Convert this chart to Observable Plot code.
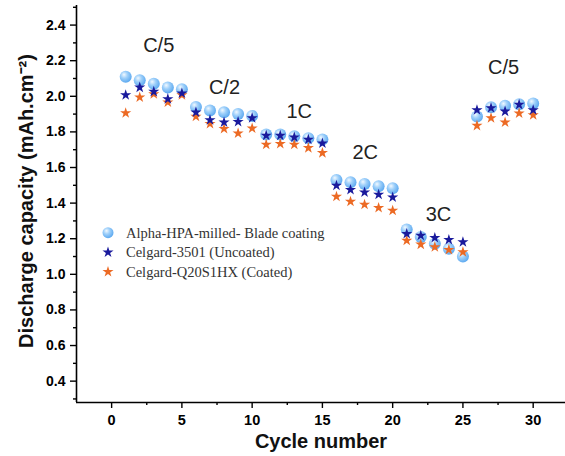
<!DOCTYPE html>
<html>
<head>
<meta charset="utf-8">
<script src="https://cdn.jsdelivr.net/npm/d3@7"></script>
<script src="https://cdn.jsdelivr.net/npm/@observablehq/plot@0.6"></script>
<style>
  html, body { margin: 0; padding: 0; background: #fff; }
  #chart { width: 565px; height: 456px; }
</style>
</head>
<body>
<div id="chart"></div>
<script>
// ---- data ----
const cycles = [1,2,3,4,5,6,7,8,9,10,11,12,13,14,15,16,17,18,19,20,21,22,23,24,25,26,27,28,29,30];
const alphaHPA = [2.11,2.09,2.07,2.05,2.04, 1.94,1.92,1.91,1.90,1.89, 1.785,1.785,1.775,1.765,1.757, 1.53,1.517,1.508,1.495,1.484, 1.252,1.209,1.172,1.144,1.10, 1.886,1.938,1.947,1.955,1.96];
const celgardUncoated = [2.007,2.05,2.026,1.985,2.017, 1.91,1.867,1.854,1.857,1.878, 1.779,1.779,1.77,1.757,1.736, 1.499,1.475,1.461,1.448,1.433, 1.228,1.218,1.205,1.194,1.181, 1.923,1.934,1.915,1.953,1.923];
const celgardCoated = [1.906,1.994,2.013,1.966,2.007, 1.886,1.845,1.817,1.792,1.82, 1.729,1.733,1.729,1.71,1.682, 1.437,1.409,1.392,1.374,1.358, 1.19,1.168,1.153,1.138,1.125, 1.835,1.878,1.854,1.904,1.895];
const seriesNames = ["Alpha-HPA-milled- Blade coating", "Celgard-3501 (Uncoated)", "Celgard-Q20S1HX (Coated)"];
const rateLabels = ["C/5","C/2","1C","2C","3C","C/5"];
const rateX = [3.35, 8.03, 13.35, 18.05, 23.26, 27.89];
const rateY = [2.285, 2.05, 1.915, 1.685, 1.336, 2.162];
const xTicks = [0,5,10,15,20,25,30];
const xMinorTicks = [2.5,7.5,12.5,17.5,22.5,27.5,32.5];
const yTicks = [0.4,0.6,0.8,1.0,1.2,1.4,1.6,1.8,2.0,2.2,2.4];
const yMinorTicks = [0.3,0.5,0.7,0.9,1.1,1.3,1.5,1.7,1.9,2.1,2.3,2.5];
const xDomain = [-2.5, 32.3];
const yDomain = [0.28, 2.51];

const rows = (vals) => cycles.map((c, i) => ({cycle: c, value: vals[i]}));
const rates = rateLabels.map((t, i) => ({text: t, x: rateX[i], y: rateY[i]}));

const navy = "#1a1a9c";
const orange = "#ec6a24";
const tickFont = "'Liberation Sans', Arial, sans-serif";

const plot = Plot.plot({
  width: 565,
  height: 456,
  marginLeft: 76,
  marginRight: 0,
  marginTop: 5,
  marginBottom: 54,
  style: {fontFamily: tickFont, background: "#fff", color: "#000"},
  x: {domain: xDomain},
  y: {domain: yDomain},
  marks: [
    Plot.axisX(xTicks, {tickSize: 6, tickPadding: 6, fontSize: 14.5, fontWeight: "bold", label: null, strokeWidth: 1.4}),
    Plot.axisX(xMinorTicks, {tickSize: 3, tickFormat: () => "", label: null, strokeWidth: 1.4}),
    Plot.axisY(yTicks, {tickSize: 6, tickPadding: 5, fontSize: 14, fontWeight: "bold", tickFormat: d => d.toFixed(1), label: null, strokeWidth: 1.4}),
    Plot.axisY(yMinorTicks, {tickSize: 3, tickFormat: () => "", label: null, strokeWidth: 1.4}),
    Plot.ruleX([xDomain[0]], {stroke: "#000", strokeWidth: 1.6}),
    Plot.ruleY([yDomain[0]], {stroke: "#000", strokeWidth: 1.6}),
    Plot.text(["Discharge capacity (mAh.cm\u207B\u00B2)"], {frameAnchor: "left", rotate: -90, textAnchor: "middle", dx: -50, dy: -3, fontSize: 20, fontWeight: "bold", fill: "#111"}),
    Plot.text(["Cycle number"], {frameAnchor: "bottom", textAnchor: "middle", dy: 45.5, fontSize: 20, fontWeight: "bold", fill: "#111"}),
    Plot.dot(rows(alphaHPA), {x: "cycle", y: "value", r: 6, fill: "url(#sphereGrad)", stroke: "none"}),
    Plot.dot(rows(celgardCoated), {x: "cycle", y: "value", symbol: "star", r: 3.5, fill: orange, stroke: "none"}),
    Plot.dot(rows(celgardUncoated), {x: "cycle", y: "value", symbol: "star", r: 3.5, fill: navy, stroke: "none"}),
    Plot.text(rates, {x: "x", y: "y", text: "text", fontSize: 20, fill: "#222", fontFamily: tickFont})
  ]
});

// sphere gradient for circle markers
const svg = d3.select(plot);
const defs = svg.insert("defs", ":first-child");
const g = defs.append("radialGradient").attr("id", "sphereGrad")
  .attr("cx", "40%").attr("cy", "38%").attr("r", "62%").attr("fx", "36%").attr("fy", "32%");
g.append("stop").attr("offset", "0%").attr("stop-color", "#f2f9ff");
g.append("stop").attr("offset", "45%").attr("stop-color", "#9fd0fa");
g.append("stop").attr("offset", "100%").attr("stop-color", "#5eaaf0");

// legend inside plot area
const leg = svg.append("g")
  .attr("font-family", "'Liberation Serif', 'Times New Roman', serif")
  .attr("font-size", 14.5).attr("fill", "#333").attr("text-anchor", "start");
const legColors = ["url(#sphereGrad)", navy, orange];
seriesNames.forEach((name, i) => {
  const yy = 232.7 + i * 19.5;
  if (i === 0) {
    leg.append("circle").attr("cx", 108).attr("cy", yy).attr("r", 5.5).attr("fill", legColors[i]);
  } else {
    leg.append("path").attr("d", d3.symbol(d3.symbolStar, 38)()).attr("transform", `translate(108,${yy})`).attr("fill", legColors[i]);
  }
  leg.append("text").attr("x", 126).attr("y", yy).attr("dy", "0.35em").attr("text-anchor", "start").text(name);
});

document.getElementById("chart").appendChild(plot);
</script>
</body>
</html>
